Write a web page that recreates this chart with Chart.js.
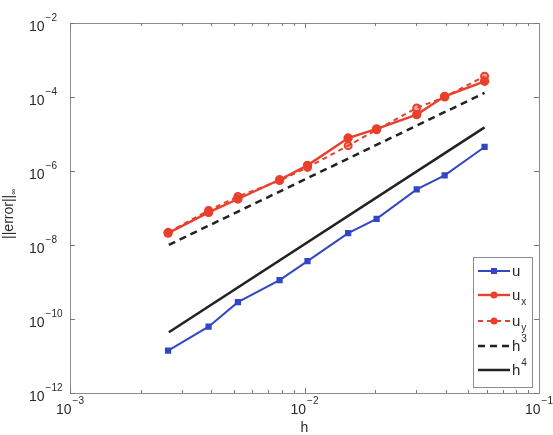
<!DOCTYPE html>
<html>
<head>
<meta charset="utf-8">
<script src="https://cdn.jsdelivr.net/npm/chart.js@4.4.0/dist/chart.umd.min.js"></script>
<style>
  html, body { margin: 0; padding: 0; background: #fff; }
  #wrap { width: 553px; height: 435px; position: relative; }
</style>
</head>
<body>
<div id="wrap"><canvas id="c" width="553" height="435"></canvas></div>
<script>
// ---- data ----
const hValues = [0.00262, 0.0039, 0.0052, 0.00783, 0.0103, 0.01535, 0.0203, 0.0301, 0.0396, 0.0586];
const errU    = [1.4e-11, 6.2e-11, 2.85e-10, 1.12e-9, 3.66e-9, 2.1e-8, 5.1e-8, 3.18e-7, 7.6e-7, 4.46e-6];
const errUx   = [2.1e-8, 7.6e-8, 1.75e-7, 5.8e-7, 1.42e-6, 7.8e-6, 1.37e-5, 3.34e-5, 1.04e-4, 2.66e-4];
const errUy   = [2.2e-8, 8.6e-8, 2.05e-7, 5.5e-7, 1.25e-6, 4.84e-6, 1.3e-5, 5.07e-5, 1.0e-4, 3.63e-4];
const refH    = [0.00264, 0.0586];
const refH3   = [1.01e-8, 1.29e-4];
const refH4   = [4.4e-11, 1.51e-5];
const xTickExponents = [-3, -2, -1];
const yTickExponents = [-12, -10, -8, -6, -4, -2];
const legendLabels = [
  { base: 'u', sub: '', sup: '' },
  { base: 'u', sub: 'x', sup: '' },
  { base: 'u', sub: 'y', sup: '' },
  { base: 'h', sub: '', sup: '3' },
  { base: 'h', sub: '', sup: '4' }
];

const BLUE = '#3346c4';
const RED = '#e8402c';
const BLACK = '#222222';

function pts(xs, ys) { return xs.map((x, i) => ({ x: x, y: ys[i] })); }

const FONT = '"Liberation Sans", Arial, Helvetica, sans-serif';
const TXT = '#2a2a2a';
const FRAME = '#8c8c8c';

const axesPlugin = {
  id: 'matlabAxes',
  beforeDatasetsDraw(chart) {
    const ctx = chart.ctx, a = chart.chartArea;
    const xs = chart.scales.x, ys = chart.scales.y;
    ctx.save();
    ctx.strokeStyle = FRAME;
    ctx.lineWidth = 1;
    ctx.strokeRect(Math.round(a.left) + 0.5, Math.round(a.top) + 0.5,
                   Math.round(a.right - a.left), Math.round(a.bottom - a.top));
    ctx.beginPath();
    for (let e = -3; e < -1; e++) {
      for (let m = 1; m <= 9; m++) {
        const v = m * Math.pow(10, e);
        const px = Math.round(xs.getPixelForValue(v)) + 0.5;
        const len = m === 1 ? 5 : 3;
        ctx.moveTo(px, a.bottom); ctx.lineTo(px, a.bottom - len);
        ctx.moveTo(px, a.top); ctx.lineTo(px, a.top + len);
      }
    }
    yTickExponents.forEach(e => {
      const py = Math.round(ys.getPixelForValue(Math.pow(10, e))) + 0.5;
      ctx.moveTo(a.left, py); ctx.lineTo(a.left + 5, py);
      ctx.moveTo(a.right, py); ctx.lineTo(a.right - 5, py);
    });
    ctx.strokeStyle = '#777';
    ctx.stroke();
    ctx.restore();
  },
  afterDraw(chart) {
    const ctx = chart.ctx, a = chart.chartArea;
    const xs = chart.scales.x, ys = chart.scales.y;
    ctx.save();
    ctx.fillStyle = TXT;
    ctx.textBaseline = 'alphabetic';
    const big = '14px ' + FONT, small = '10px ' + FONT;
    yTickExponents.forEach(e => {
      const py = ys.getPixelForValue(Math.pow(10, e));
      ctx.font = big; ctx.textAlign = 'left';
      ctx.fillText('10', 29, py + 8);
      const w = ctx.measureText('10').width;
      ctx.font = small;
      ctx.fillText('\u2212' + Math.abs(e), 29 + w + 1, py - 2);
    });
    xTickExponents.forEach(e => {
      const px = xs.getPixelForValue(Math.pow(10, e));
      ctx.font = big;
      const w1 = ctx.measureText('10').width;
      ctx.font = small;
      const sup = '\u2212' + Math.abs(e);
      const w2 = ctx.measureText(sup).width;
      const x0 = px - (w1 + 1 + w2) / 2;
      ctx.textAlign = 'left';
      ctx.font = big; ctx.fillText('10', x0, 414);
      ctx.font = small; ctx.fillText(sup, x0 + w1 + 1, 404);
    });
    ctx.font = '14px ' + FONT; ctx.textAlign = 'center';
    ctx.fillText('h', (a.left + a.right) / 2, 432);
    ctx.translate(13, 214);
    ctx.rotate(-Math.PI / 2);
    ctx.font = '14px ' + FONT;
    const t = '||error||';
    const tw = ctx.measureText(t).width;
    ctx.font = '8px ' + FONT;
    const iw = ctx.measureText('\u221e').width;
    const start = -(tw + iw) / 2;
    ctx.textAlign = 'left';
    ctx.font = '14px ' + FONT;
    ctx.fillText(t, start, 0);
    ctx.font = '8px ' + FONT;
    ctx.fillText('\u221e', start + tw, 3);
    ctx.restore();

    const ds = chart.data.datasets;
    const bx = 473, by = 257, bw = 59, bh = 130;
    ctx.save();
    ctx.fillStyle = '#fff';
    ctx.fillRect(bx, by, bw, bh);
    ctx.strokeStyle = FRAME; ctx.lineWidth = 1;
    ctx.strokeRect(bx + 0.5, by + 0.5, bw, bh);
    const rowsY = [271, 295, 321, 346, 370];
    ds.forEach((d, i) => {
      const y = rowsY[i];
      ctx.strokeStyle = d.borderColor;
      ctx.lineWidth = d.borderWidth;
      ctx.setLineDash(d.borderDash || []);
      ctx.beginPath(); ctx.moveTo(478, y); ctx.lineTo(510, y); ctx.stroke();
      ctx.setLineDash([]);
      if (d.pointRadius > 0) {
        ctx.fillStyle = d.borderColor;
        if (d.pointStyle === 'rect') {
          ctx.fillRect(494 - 3, y - 3, 6, 6);
        } else {
          ctx.beginPath(); ctx.arc(494, y, d.pointRadius, 0, Math.PI * 2); ctx.fill();
        }
      }
      const L = legendLabels[i];
      ctx.fillStyle = TXT;
      ctx.textAlign = 'left';
      ctx.font = '15px ' + FONT;
      ctx.fillText(L.base, 512, y + 5);
      const w = ctx.measureText(L.base).width;
      ctx.font = '10px ' + FONT;
      if (L.sub) ctx.fillText(L.sub, 512 + w + 1, y + 10);
      if (L.sup) ctx.fillText(L.sup, 512 + w + 1, y - 4);
    });
    ctx.restore();
  }
};

new Chart(document.getElementById('c'), {
  type: 'line',
  data: {
    datasets: [
      { label: 'u', data: pts(hValues, errU), borderColor: BLUE, backgroundColor: BLUE,
        borderWidth: 2, pointStyle: 'rect', pointRadius: 3, pointBackgroundColor: BLUE, pointBorderColor: BLUE },
      { label: 'u_x', data: pts(hValues, errUx), borderColor: RED, backgroundColor: RED,
        borderWidth: 2.4, pointStyle: 'circle', pointRadius: 3.5, pointBackgroundColor: RED, pointBorderColor: RED },
      { label: 'u_y', data: pts(hValues, errUy), borderColor: RED, backgroundColor: RED,
        borderWidth: 2, borderDash: [5, 4], pointStyle: 'circle', pointRadius: 3.5,
        pointBackgroundColor: 'rgba(232,64,44,0.45)', pointBorderColor: RED },
      { label: 'h^3', data: pts(refH, refH3), borderColor: BLACK, borderWidth: 2.5, borderDash: [7, 5],
        pointRadius: 0 },
      { label: 'h^4', data: pts(refH, refH4), borderColor: BLACK, borderWidth: 2.5, pointRadius: 0 }
    ]
  },
  options: {
    responsive: false,
    animation: false,
    layout: { padding: { left: 70, top: 23, right: 14, bottom: 42 } },
    plugins: { legend: { display: false }, tooltip: { enabled: false } },
    elements: { line: { tension: 0 } },
    scales: {
      x: { type: 'logarithmic', min: 1e-3, max: 1e-1, display: false },
      y: { type: 'logarithmic', min: 1e-12, max: 1e-2, display: false }
    }
  },
  plugins: [axesPlugin]
});
</script>
</body>
</html>
